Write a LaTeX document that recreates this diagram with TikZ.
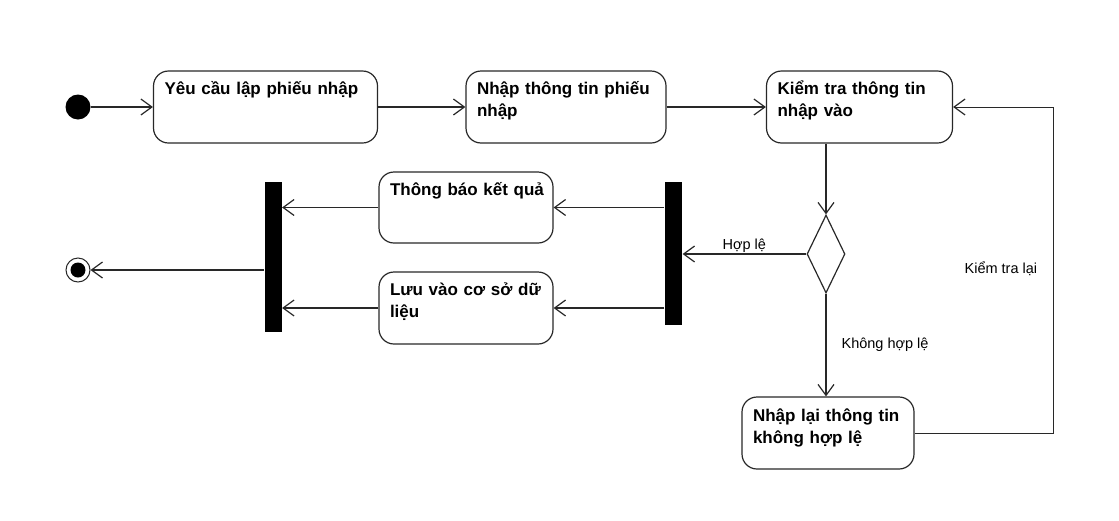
\documentclass[tikz,border=0pt]{standalone}
\usepackage{fontspec}
\setmainfont{Liberation Sans}
\usetikzlibrary{arrows.meta,shapes.geometric}
\begin{document}
\begin{tikzpicture}[x=1pt,y=-1pt,
  line width=1.2pt, draw={rgb,255:red,40;green,40;blue,40},
  act/.style={draw, rounded corners=15pt, fill=white, inner sep=0pt},
  txt/.style={anchor=base west, inner sep=0pt, text width=200pt, align=left,
    font=\fontsize{17}{22.5}\selectfont\bfseries},
  lab/.style={inner sep=0pt, anchor=base west, font=\fontsize{14.5}{17}\selectfont},
  arr/.style={-{Straight Barb[length=11pt,width=16pt,line width=1.2pt]}},
  bar/.style={fill=black, draw=none, inner sep=0pt, minimum width=17pt},
  dec/.style={draw, diamond, inner sep=0pt, minimum width=38pt, minimum height=78pt, aspect=0.49}
]
\useasboundingbox (0,0) rectangle (1119,520);
% initial and final
\node[circle, fill=black, draw=none, minimum size=25pt, inner sep=0pt] (ini) at (78,107) {};
\node[circle, draw, fill=white, minimum size=24pt, inner sep=0pt, line width=1pt] (fin) at (78,270) {};
\node[circle, fill=black, draw=none, minimum size=15pt, inner sep=0pt] (finin) at (78,270) {};
% activities
\node[act, minimum width=224pt, minimum height=72pt] (b1) at (265.5,107) {};
\node[act, minimum width=200pt, minimum height=72pt] (b2) at (566,107) {};
\node[act, minimum width=186pt, minimum height=72pt] (b3) at (859.5,107) {};
\node[act, minimum width=174pt, minimum height=71pt] (m1) at (466,207.5) {};
\node[act, minimum width=174pt, minimum height=72pt] (m2) at (466,308) {};
\node[act, minimum width=172pt, minimum height=72pt] (b4) at (828,433) {};
% texts
\node[txt] (t1) at ([xshift=11pt,yshift=-24pt]b1.north west) {Yêu cầu lập phiếu nhập};
\node[txt] (t2) at ([xshift=11pt,yshift=-24pt]b2.north west) {Nhập thông tin phiếu\\nhập};
\node[txt] (t3) at ([xshift=11pt,yshift=-24pt]b3.north west) {Kiểm tra thông tin\\nhập vào};
\node[txt] (t4) at ([xshift=11pt,yshift=-24pt]m1.north west) {Thông báo kết quả};
\node[txt] (t5) at ([xshift=11pt,yshift=-24pt]m2.north west) {Lưu vào cơ sở dữ\\liệu};
\node[txt] (t6) at ([xshift=11pt,yshift=-25pt]b4.north west) {Nhập lại thông tin\\không hợp lệ};
% bars and decision
\node[bar, minimum height=143pt] (f2) at (673.5,253.5) {};
\node[bar, minimum height=150pt] (f1) at (273,257) {};
\node[dec] (d) at (826,254) {};
\coordinate (r) at (1053,270);
% connectors
\draw[arr] (ini) -- (b1.west |- ini);
\draw[arr] (b1.east) -- (b2.west);
\draw[arr] (b2.east) -- (b3.west);
\draw[arr] (d.north |- b3.south) -- (d.north);
\draw[arr] (d.south) -- (d.south |- b4.north);
\draw[arr] (d.west) -- (f2.east |- d.west);
\draw[arr] (f2.west |- m1.east) -- (m1.east);
\draw[arr] (f2.west |- m2.east) -- (m2.east);
\draw[arr] (m1.west) -- (f1.east |- m1.west);
\draw[arr] (m2.west) -- (f1.east |- m2.west);
\draw[arr] (f1.west |- fin) -- (fin.east);
\draw[arr, line width=1pt] (b4.east) -| (r) |- (b3.east);
% labels
\node[lab] (l1) at (722,249) {Hợp lệ};
\node[lab] (l2) at (841,348) {Không hợp lệ};
\node[lab] (l3) at (964,273) {Kiểm tra lại};
\end{tikzpicture}
\end{document}
